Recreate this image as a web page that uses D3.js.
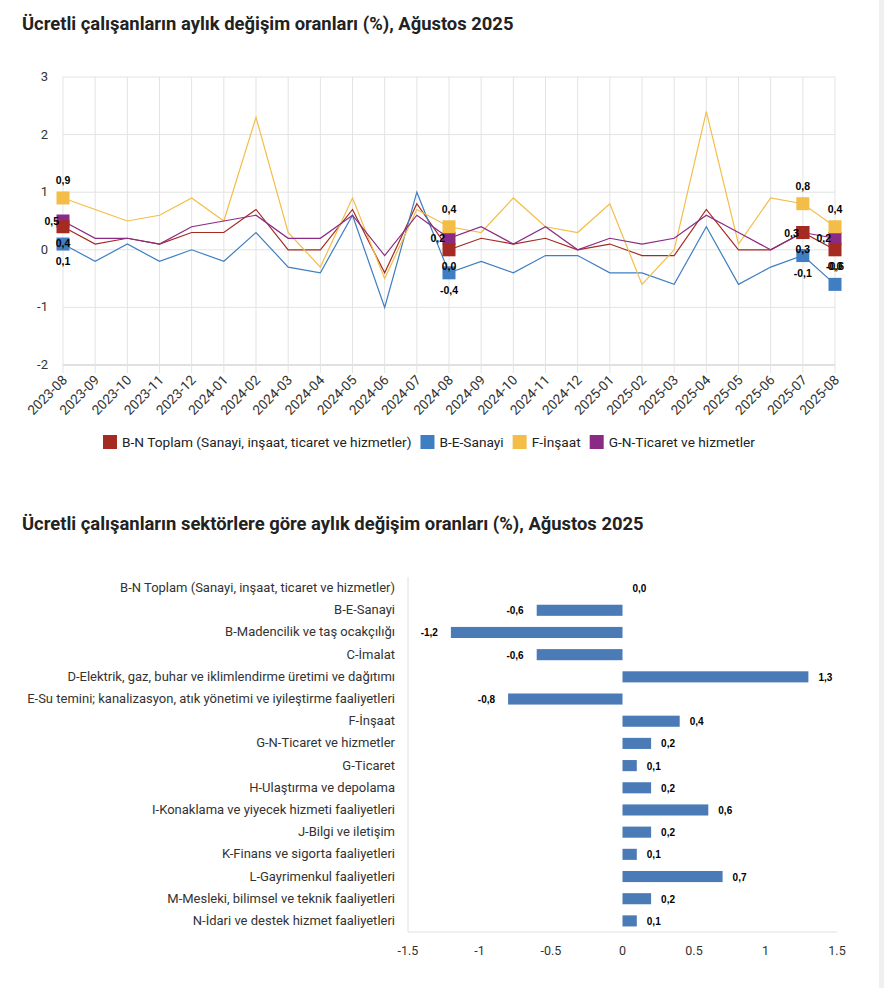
<!DOCTYPE html>
<html>
<head>
<meta charset="utf-8">
<script src="https://cdn.jsdelivr.net/npm/d3@7"></script>
<style>
  body { margin: 0; background: #fff; font-family: Roboto, "Liberation Sans", sans-serif; }
  svg text { fill: #333; }
</style>
</head>
<body>
<div id="contenidor"></div>
<script>
// months of the line chart
const months = ["2023-08","2023-09","2023-10","2023-11","2023-12","2024-01","2024-02","2024-03","2024-04",
  "2024-05","2024-06","2024-07","2024-08","2024-09","2024-10","2024-11","2024-12","2025-01","2025-02",
  "2025-03","2025-04","2025-05","2025-06","2025-07","2025-08"];

const seriesNames = ["B-N Toplam (Sanayi, inşaat, ticaret ve hizmetler)", "B-E-Sanayi", "F-İnşaat", "G-N-Ticaret ve hizmetler"];
const toplam  = [0.4,0.1,0.2,0.1,0.3,0.3,0.7,0.0,0.0,0.7,-0.4,0.8,0.0,0.2,0.1,0.2,0.0,0.1,-0.1,-0.1,0.7,0.0,0.0,0.3,0.0];
const sanayi  = [0.1,-0.2,0.1,-0.2,0.0,-0.2,0.3,-0.3,-0.4,0.6,-1.0,1.0,-0.4,-0.2,-0.4,-0.1,-0.1,-0.4,-0.4,-0.6,0.4,-0.6,-0.3,-0.1,-0.6];
const insaat  = [0.9,0.7,0.5,0.6,0.9,0.5,2.3,0.3,-0.3,0.9,-0.5,0.7,0.4,0.3,0.9,0.4,0.3,0.8,-0.6,0.0,2.4,0.1,0.9,0.8,0.4];
const ticaret = [0.5,0.2,0.2,0.1,0.4,0.5,0.6,0.2,0.2,0.6,-0.1,0.6,0.2,0.4,0.1,0.4,0.0,0.2,0.1,0.2,0.6,0.3,0.0,0.3,0.2];
const markedMonths = ["2023-08","2024-08","2025-07","2025-08"];
const yTicks = [-2,-1,0,1,2,3];

// bar chart
const sectors = ["B-N Toplam (Sanayi, inşaat, ticaret ve hizmetler)","B-E-Sanayi","B-Madencilik ve taş ocakçılığı","C-İmalat",
  "D-Elektrik, gaz, buhar ve iklimlendirme üretimi ve dağıtımı","E-Su temini; kanalizasyon, atık yönetimi ve iyileştirme faaliyetleri",
  "F-İnşaat","G-N-Ticaret ve hizmetler","G-Ticaret","H-Ulaştırma ve depolama","I-Konaklama ve yiyecek hizmeti faaliyetleri",
  "J-Bilgi ve iletişim","K-Finans ve sigorta faaliyetleri","L-Gayrimenkul faaliyetleri","M-Mesleki, bilimsel ve teknik faaliyetleri",
  "N-İdari ve destek hizmet faaliyetleri"];
const sectorValues = [0.0,-0.6,-1.2,-0.6,1.3,-0.8,0.4,0.2,0.1,0.2,0.6,0.2,0.1,0.7,0.2,0.1];
const barTicks = [-1.5,-1,-0.5,0,0.5,1,1.5];

const colors = ["#a42a22","#3f7ec2","#f3bd48","#8b2a84"];
const width = 884, height = 988;
const fmt = v => d3.format(".1f")(v).replace(".", ",").replace("−", "-");

const svg = d3.select("#contenidor").append("svg")
  .attr("width", width).attr("height", height);

// faint scroll strip at right edge
svg.append("rect").attr("x", 879).attr("y", 0).attr("width", 5).attr("height", height).attr("fill", "#f0f0f0");

svg.append("text").attr("x", 22).attr("y", 30)
  .style("font-size", "18.4px").style("font-weight", "bold").style("fill", "#222")
  .text("Ücretli çalışanların aylık değişim oranları (%), Ağustos 2025");

// ---------- line chart ----------
const x = d3.scalePoint().domain(months).range([63, 835]);
const y = d3.scaleLinear().domain([-2, 3]).range([365, 77]);

const grid = svg.append("g");
grid.selectAll("line.h").data(yTicks).enter().append("line")
  .attr("x1", 63).attr("x2", 835).attr("y1", d => y(d)).attr("y2", d => y(d))
  .attr("stroke", d => d === -2 ? "#d6d6d6" : "#e3e3e3").attr("stroke-width", d => d === -2 ? 1.5 : 1);
grid.selectAll("line.v").data(months).enter().append("line")
  .attr("x1", d => x(d)).attr("x2", d => x(d)).attr("y1", 77).attr("y2", 373)
  .attr("stroke", "#e3e3e3");

svg.selectAll("text.ytick").data(yTicks).enter().append("text")
  .attr("x", 48).attr("y", d => y(d) + 4).attr("text-anchor", "end")
  .style("font-size", "13px").text(d => d);

svg.selectAll("text.xtick").data(months).enter().append("text")
  .attr("text-anchor", "end")
  .attr("transform", d => "translate(" + (x(d) + 5) + ",381) rotate(-45)")
  .style("font-size", "13.5px").text(d => d);

const allSeries = [toplam, sanayi, insaat, ticaret];
const line = d3.line().x((d, i) => x(months[i])).y(d => y(d));

allSeries.forEach((s, k) => {
  svg.append("path").datum(s).attr("d", line)
    .attr("fill", "none").attr("stroke", colors[k]).attr("stroke-width", 1.2);
});

// markers, drawn back to front
[3, 2, 1, 0].forEach(k => {
  markedMonths.forEach(m => {
    const i = months.indexOf(m);
    svg.append("rect")
      .attr("x", x(m) - 6.5).attr("y", y(allSeries[k][i]) - 6.5)
      .attr("width", 13).attr("height", 13).attr("fill", colors[k]);
  });
});

// value labels
allSeries.forEach((s, k) => {
  markedMonths.forEach(m => {
    const i = months.indexOf(m);
    const px = x(m), py = y(s[i]);
    let tx = px, ty = py, anchor = "middle";
    if (k === 2) { ty = py - 18; }
    else if (k === 3) { tx = px - 4; anchor = "end"; }
    else if (k === 0) { ty = py + 16; }
    else { ty = (i === months.length - 1) ? py - 18 : py + 17; }
    svg.append("text").attr("x", tx).attr("y", ty + 4)
      .attr("text-anchor", anchor)
      .style("font-family", "'Liberation Sans', Arial, sans-serif")
      .style("font-size", "10.5px").style("font-weight", "bold").style("fill", "#000")
      .text(fmt(s[i]));
  });
});

// legend
const legend = svg.append("g");
let lx = 103;
seriesNames.forEach((n, k) => {
  legend.append("rect").attr("x", lx).attr("y", 435).attr("width", 14).attr("height", 14).attr("fill", colors[k]);
  const t = legend.append("text").attr("x", lx + 19).attr("y", 447)
    .style("font-size", "13.7px").style("fill", "#222").text(n);
  lx += 19 + t.node().getComputedTextLength() + 9;
});

// ---------- bar chart ----------
svg.append("text").attr("x", 22).attr("y", 530)
  .style("font-size", "18.4px").style("font-weight", "bold").style("fill", "#222")
  .text("Ücretli çalışanların sektörlere göre aylık değişim oranları (%), Ağustos 2025");

const bx = d3.scaleLinear().domain([-1.5, 1.5]).range([408, 837]);
const by = d3.scaleBand().domain(sectors).range([577, 932]).paddingInner(0.5).paddingOuter(0.25);

svg.append("line").attr("x1", 408).attr("x2", 408).attr("y1", 577).attr("y2", 932).attr("stroke", "#e0e0e0");
svg.append("line").attr("x1", 408).attr("x2", 837).attr("y1", 932).attr("y2", 932).attr("stroke", "#e0e0e0");

svg.selectAll("text.btick").data(barTicks).enter().append("text")
  .attr("x", d => bx(d)).attr("y", 955).attr("text-anchor", "middle")
  .style("font-size", "12.5px").text(d => d);

svg.selectAll("text.cat").data(sectors).enter().append("text")
  .attr("x", 395).attr("y", d => by(d) + by.bandwidth() / 2 + 4).attr("text-anchor", "end")
  .style("font-size", "13px").text(d => d);

svg.selectAll("rect.bar").data(sectorValues).enter().append("rect")
  .attr("x", d => bx(Math.min(0, d)))
  .attr("y", (d, i) => by(sectors[i]))
  .attr("width", d => Math.abs(bx(d) - bx(0)))
  .attr("height", by.bandwidth())
  .attr("fill", "#4a7bb6");

svg.selectAll("text.bval").data(sectorValues).enter().append("text")
  .attr("x", d => d < 0 ? bx(d) - 13 : bx(d) + 10)
  .attr("y", (d, i) => by(sectors[i]) + by.bandwidth() / 2 + 4)
  .attr("text-anchor", d => d < 0 ? "end" : "start")
  .style("font-family", "'Liberation Sans', Arial, sans-serif")
  .style("font-size", "10px").style("font-weight", "bold").style("fill", "#000")
  .text(d => fmt(d));
</script>
</body>
</html>
